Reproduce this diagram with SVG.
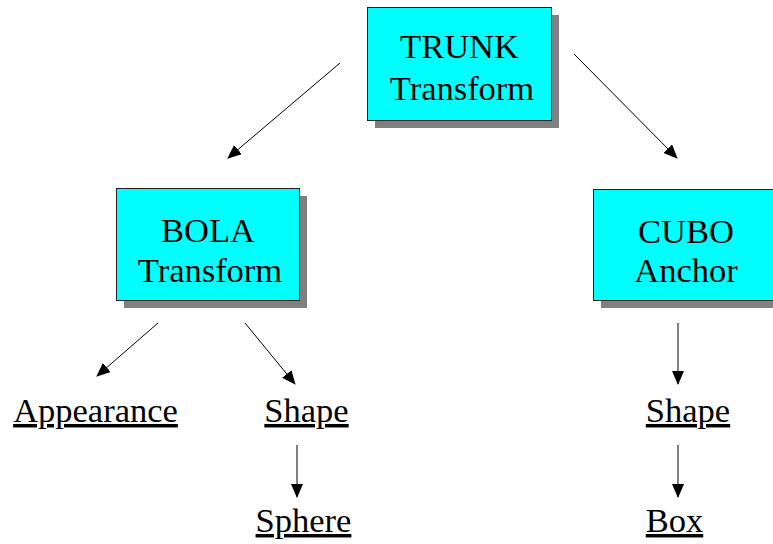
<svg xmlns="http://www.w3.org/2000/svg" width="773" height="544" viewBox="0 0 773 544">
<defs>
<marker id="ah" markerWidth="14" markerHeight="12" refX="13" refY="6" orient="auto" markerUnits="userSpaceOnUse">
<path d="M0,0 L14,6 L0,12 Z" fill="#000"/>
</marker>
<style>
.box{fill:#00FFFF;stroke:#222;stroke-width:1}
.sh{fill:#808080}
.t{font-family:'Liberation Serif','Times New Roman',serif;font-size:34.5px;fill:#000;text-anchor:middle}
.u{text-decoration:underline}
.c{stroke:#000;stroke-width:1;fill:none;marker-end:url(#ah)}
</style>
</defs>
<rect width="773" height="544" fill="#fff"/>
<g id="trunk">
<rect class="sh" x="375" y="15" width="184" height="113"/>
<rect class="box" x="367.5" y="7.5" width="184" height="113"/>
<text class="t" x="459.5" y="58">TRUNK</text>
<text class="t" x="462" y="100">Transform</text>
</g>
<g id="bola">
<rect class="sh" x="124" y="196" width="183" height="112"/>
<rect class="box" x="116.5" y="188.5" width="183" height="112"/>
<text class="t" x="208" y="242">BOLA</text>
<text class="t" x="210" y="282">Transform</text>
</g>
<g id="cubo">
<rect class="sh" x="601" y="197" width="190" height="111"/>
<rect class="box" x="593.5" y="189.5" width="190" height="111"/>
<text class="t" x="686" y="243">CUBO</text>
<text class="t" x="686" y="282">Anchor</text>
</g>
<g id="appearance"><text class="t u" x="95.5" y="422">Appearance</text></g>
<g id="shape1"><text class="t u" x="306.5" y="422">Shape</text></g>
<g id="sphere"><text class="t u" x="303.5" y="532">Sphere</text></g>
<g id="shape2"><text class="t u" x="688" y="422">Shape</text></g>
<g id="box"><text class="t u" x="674.5" y="532">Box</text></g>
<g id="connectors">
<line class="c" x1="340" y1="63" x2="228" y2="158"/>
<line class="c" x1="574" y1="54" x2="677" y2="158"/>
<line class="c" x1="158" y1="323" x2="97" y2="376"/>
<line class="c" x1="245" y1="323" x2="295" y2="384"/>
<line class="c" x1="297" y1="445" x2="297" y2="497"/>
<line class="c" x1="678" y1="323" x2="678" y2="384"/>
<line class="c" x1="678" y1="445" x2="678" y2="497"/>
</g>
</svg>
